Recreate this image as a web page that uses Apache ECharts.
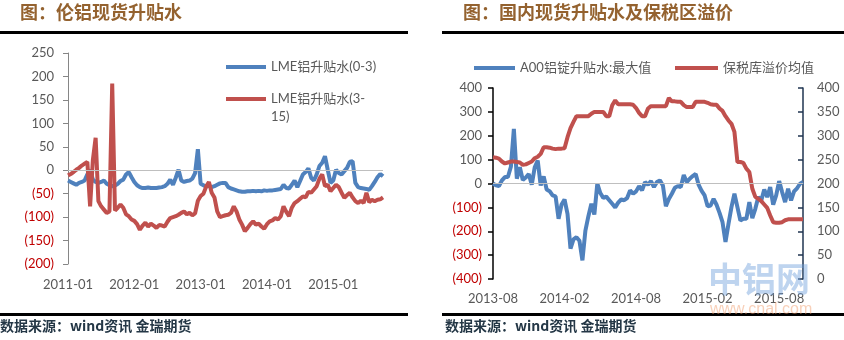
<!DOCTYPE html>
<html><head><meta charset="utf-8">
<script src="https://cdn.jsdelivr.net/npm/echarts@6/dist/echarts.min.js"></script>
<style>html,body{margin:0;padding:0;background:#fff}#c{width:844px;height:340px}</style>
</head><body><div id="c"></div>
<script>
// ---------- data ----------
const leftTicks = ['2011-01','2012-01','2013-01','2014-01','2015-01'];
const rightTicks = ['2013-08','2014-02','2014-08','2015-02','2015-08'];

// LME (0-3), semi-monthly from 2011-01 to 2015-10
const lme03 = [
 -22,-25,-28,-31,-27,-25,-22,-9,1,-20,
 -25,-27,-25,-22,-29,-32,-34,-33,-29,-23,
 -20,-9,-4,-15,-25,-32,-36,-38,-38,-37,
 -38,-38,-38,-37,-36,-34,-29,-20,-31,-16,
 1,-22,-25,-23,-22,-18,-6,45,-29,-32,
 -35,-33,-36,-34,-31,-28,-27,-27,-36,-39,
 -41,-43,-45,-46,-46,-45,-45,-44,-45,-44,
 -45,-43,-44,-43,-43,-42,-41,-40,-31,-38,
 -39,-31,-22,-36,-23,-9,-4,4,-16,-22,
 -9,9,16,30,1,-27,-22,1,-6,-9,
 -2,5,18,19,-27,-36,-38,-39,-40,-42,
 -34,-25,-15,-8,-13
];
// LME (3-15)
const lme315 = [
 -11,-8,-4,1,5,10,14,18,-77,22,
 69,-66,-77,-84,-91,-88,185,-86,-80,-73,
 -80,-94,-98,-105,-108,-115,-127,-118,-112,-120,
 -114,-118,-123,-117,-118,-120,-110,-102,-100,-98,
 -95,-91,-88,-94,-91,-96,-92,-65,-55,-50,
 -35,-25,-48,-58,-88,-100,-98,-96,-95,-91,
 -77,-88,-105,-116,-130,-123,-115,-109,-116,-114,
 -120,-125,-115,-109,-107,-102,-105,-98,-77,-89,
 -98,-80,-70,-66,-61,-56,-58,-46,-48,-41,
 -34,-18,-9,-34,-31,-45,-38,-31,-36,-48,
 -59,-53,-48,-58,-66,-70,-65,-70,-48,-68,
 -63,-66,-63,-62,-58
];
// A00 max premium, weekly from 2013-08 to 2015-10
const a00Max = [
 0,-8,-11,13,27,27,70,229,20,68,
 15,25,40,-5,68,96,-8,30,-25,-32,
 -50,-54,-148,-88,-67,-127,-273,-234,-225,-240,
 -322,-197,-137,-85,-130,0,-40,-60,-55,-70,
 -85,-100,-80,-67,-70,-61,-29,-43,-33,-11,
 -29,6,-5,10,-15,6,13,-8,-95,-65,
 -43,-18,-11,-15,36,6,20,31,40,-6,
 -31,-50,-95,-92,-64,-89,-123,-162,-245,-169,
 -99,-43,-99,-155,-148,-148,-78,-145,-106,-57,
 -71,-25,-57,-15,-89,-50,10,-36,-78,-22,
 -71,-33,-20,-1,6
];
// bonded warehouse premium average
const bondedPremium = [
 255,254,252,246,242,244,246,246,245,244,
 239,240,243,246,253,256,262,276,276,275,
 273,272,273,273,274,297,316,329,341,341,
 341,341,341,346,350,350,350,350,341,341,
 364,374,366,366,366,366,366,365,358,348,
 341,341,357,362,362,362,362,362,362,379,
 372,372,371,371,364,360,360,360,371,371,
 371,371,369,366,365,365,357,352,341,332,
 325,308,245,245,243,231,224,189,172,168,
 163,156,149,133,119,118,118,119,123,125,
 125,125,125,125,125
];

function buildDates(y0, m0, y1, m1, days) {
  const out = [];
  let y = y0, m = m0;
  while (true) {
    const ym = y + '-' + String(m).padStart(2, '0');
    if (y === y1 && m === m1) { out.push(ym + '-' + days[0]); break; }
    days.forEach(d => out.push(ym + '-' + d));
    m++; if (m > 12) { m = 1; y++; }
  }
  return out;
}
const leftDates = buildDates(2011, 1, 2015, 10, ['01','16']);
const rightDates = buildDates(2013, 8, 2015, 10, ['01','08','16','23']);

// ---------- style ----------
const BLUE = '#4F81BD', RED = '#C0504D';
const GRAY = '#595959', NEG = '#C00000';
const LATIN = 'Lato, "Noto Sans CJK SC", sans-serif';
const CJK = '"Noto Sans CJK SC", sans-serif';
const paren = v => v < 0 ? '(' + (-v) + ')' : String(v);
const negColor = v => Number(v) < 0 ? NEG : GRAY;

const zeroLine = {
  silent: true, symbol: 'none', label: { show: false },
  lineStyle: { color: '#BFBFBF', type: 'solid', width: 1 },
  data: [{ yAxis: 0 }], animation: false
};

const legendBase = {
  padding: 0, icon: 'rect', itemHeight: 4, itemGap: 0,
  textStyle: { fontSize: 13, color: GRAY, fontFamily: LATIN, lineHeight: 18 }
};

const chart = echarts.init(document.getElementById('c'), null, { renderer: 'canvas' });
chart.setOption({
  animation: false,
  backgroundColor: '#fff',
  grid: [
    { left: 68, top: 53, width: 315, height: 211 },
    { left: 493, top: 88, width: 310, height: 191 }
  ],
  xAxis: [
    { type: 'category', gridIndex: 0, data: leftDates, boundaryGap: false,
      axisLine: { show: false }, axisTick: { show: false }, splitLine: { show: false },
      axisLabel: { interval: (i, v) => v.endsWith('-01') && leftTicks.includes(v.slice(0, 7)),
        formatter: v => v.slice(0, 7), color: GRAY, fontSize: 13, fontFamily: LATIN, margin: 14 } },
    { type: 'category', gridIndex: 1, data: rightDates, boundaryGap: false,
      axisLine: { show: false }, axisTick: { show: false }, splitLine: { show: false },
      axisLabel: { interval: (i, v) => v.endsWith('-01') && rightTicks.includes(v.slice(0, 7)),
        formatter: v => v.slice(0, 7), color: GRAY, fontSize: 13, fontFamily: LATIN, margin: 13 } }
  ],
  yAxis: [
    { type: 'value', gridIndex: 0, min: -200, max: 250, interval: 50,
      axisLine: { show: true, lineStyle: { color: '#868686', width: 1 } },
      axisTick: { show: true, length: 5, lineStyle: { color: '#868686' } },
      splitLine: { show: false },
      axisLabel: { formatter: paren, color: negColor, fontSize: 13, fontFamily: LATIN, margin: 14 } },
    { type: 'value', gridIndex: 1, min: -400, max: 400, interval: 100,
      axisLine: { show: true, lineStyle: { color: '#000', width: 1.5 } },
      axisTick: { show: true, length: 5, lineStyle: { color: '#000', width: 1.5 } },
      splitLine: { show: false },
      axisLabel: { formatter: paren, color: negColor, fontSize: 13, fontFamily: LATIN, margin: 11 } },
    { type: 'value', gridIndex: 1, position: 'right', min: 0, max: 400, interval: 50,
      axisLine: { show: true, lineStyle: { color: '#1F3550', width: 1.5 } },
      axisTick: { show: true, inside: true, length: 5, lineStyle: { color: '#1F3550', width: 1.5 } },
      splitLine: { show: false },
      axisLabel: { color: GRAY, fontSize: 13, fontFamily: LATIN, margin: 14 } }
  ],
  legend: [
    Object.assign({}, legendBase, { data: ['LME铝升贴水(0-3)'], left: 226, top: 58, itemWidth: 40 }),
    Object.assign({}, legendBase, { data: ['LME铝升贴水(3-15)'], left: 226, top: 72, itemWidth: 40,
      formatter: n => '\n' + n.replace('(3-15)', '(3-\n15)') }),
    Object.assign({}, legendBase, { data: ['A00铝锭升贴水:最大值'], left: 474, top: 59, itemWidth: 41 }),
    Object.assign({}, legendBase, { data: ['保税库溢价均值'], left: 675, top: 59, itemWidth: 43 })
  ],
  series: [
    { name: 'LME铝升贴水(0-3)', type: 'line', xAxisIndex: 0, yAxisIndex: 0, data: lme03,
      symbol: 'none', lineStyle: { color: BLUE, width: 4 }, itemStyle: { color: BLUE }, markLine: zeroLine },
    { name: 'LME铝升贴水(3-15)', type: 'line', xAxisIndex: 0, yAxisIndex: 0, data: lme315,
      symbol: 'none', lineStyle: { color: RED, width: 4 }, itemStyle: { color: RED } },
    { name: 'A00铝锭升贴水:最大值', type: 'line', xAxisIndex: 1, yAxisIndex: 1, data: a00Max,
      symbol: 'none', lineStyle: { color: BLUE, width: 4 }, itemStyle: { color: BLUE }, markLine: zeroLine },
    { name: '保税库溢价均值', type: 'line', xAxisIndex: 1, yAxisIndex: 2, data: bondedPremium,
      symbol: 'none', lineStyle: { color: RED, width: 4 }, itemStyle: { color: RED } }
  ],
  graphic: [
    { type: 'text', left: 20, top: 3, style: { text: '图：伦铝现货升贴水', fontSize: 18, fontWeight: 'bold', fontFamily: CJK, fill: '#94622F' } },
    { type: 'text', left: 463, top: 3, style: { text: '图：国内现货升贴水及保税区溢价', fontSize: 18, fontWeight: 'bold', fontFamily: CJK, fill: '#94622F' } },
    { type: 'rect', shape: { x: 0, y: 31, width: 408, height: 3 }, style: { fill: '#000' } },
    { type: 'rect', shape: { x: 442, y: 31, width: 402, height: 3 }, style: { fill: '#000' } },
    { type: 'rect', shape: { x: 0, y: 313, width: 408, height: 3 }, style: { fill: '#000' } },
    { type: 'rect', shape: { x: 442, y: 313, width: 402, height: 3 }, style: { fill: '#000' } },
    { type: 'text', left: 0, top: 319, style: { text: '数据来源：wind资讯 金瑞期货', fontSize: 14, fontWeight: 'bold', fontFamily: CJK, fill: '#243746' } },
    { type: 'text', left: 445, top: 319, style: { text: '数据来源：wind资讯 金瑞期货', fontSize: 14, fontWeight: 'bold', fontFamily: CJK, fill: '#243746' } },
    { type: 'text', left: 708, top: 262, z: 100, style: { text: '中铝网', fontSize: 34, fontWeight: 'bold', fontFamily: CJK, fill: 'rgba(110,160,220,0.45)' } },
    { type: 'text', left: 710, top: 302, z: 100, style: { text: 'www.cnal.com', fontSize: 16, fontFamily: '"Liberation Sans", sans-serif', fill: 'rgba(240,150,100,0.45)' } }
  ]
});
</script>
</body></html>
